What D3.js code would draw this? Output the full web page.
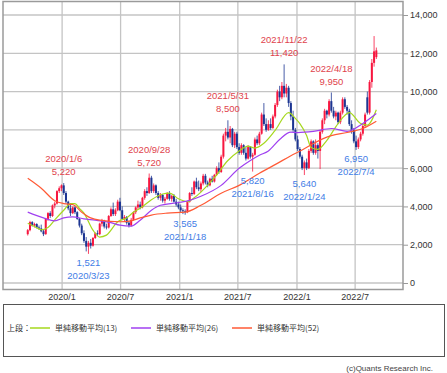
<!DOCTYPE html>
<html>
<head>
<meta charset="utf-8">
<script src="https://d3js.org/d3.v7.min.js"></script>
<style>
body, html {
  margin: 0;
  padding: 0;
  background: #fff;
  font-family: "Liberation Sans", Arial, sans-serif;
}
.grid line { stroke: #c4c4c4; stroke-width: 1.3; }
.frame { fill: none; stroke: #9a9a9a; stroke-width: 1.5; }
.ma { fill: none; stroke-width: 1.2; }
.tick-label { font-size: 9px; fill: #333; }
.note { font-size: 9.5px; text-anchor: middle; }
</style>
</head>
<body>
<div id="chart"></div>
<script>

// weekly candles, first week starts 2019-09-16
var firstWeek = "2019-09-16";
// [open, high, low, close]
var candles = [
  [2550,2820,2480,2760],[2760,3250,2700,3180],[3180,3230,2950,3000],[3000,3150,2900,3080],
  [3080,3120,2850,2900],[2900,3000,2780,2850],[2850,3050,2650,2700],[2700,2800,2450,2550],
  [2550,3400,2520,3350],[3350,3700,3250,3650],[3650,3750,3400,3500],[3500,4100,3450,4050],
  [4050,4250,3900,4150],[4150,4850,4100,4800],[4800,5050,4700,4950],[4950,5150,4800,5100],
  // 2020
  [5100,5220,4600,4700],[4700,4800,4150,4250],[4250,4300,3800,3900],[3900,4100,3500,3650],
  [3650,4000,3600,3950],[3950,4000,3600,3700],[3700,3750,3300,3350],[3350,3400,2900,3000],
  [3000,3100,2500,2600],[2600,2750,2100,2200],[2200,2400,1650,1900],[1900,2200,1521,2100],
  [2100,2300,1800,1950],[1950,2400,1900,2350],[2350,2650,2300,2600],[2600,2750,2450,2550],
  [2550,3150,2500,3100],[3100,3350,2950,3250],[3250,3300,2850,2950],[2950,3100,2800,2900],
  [2900,3550,2850,3500],[3500,3950,3450,3850],[3850,4200,3500,3600],[3600,3900,3500,3800],
  [3800,4350,3750,4250],[4250,4450,3750,3800],[3800,4000,3300,3350],[3350,3550,3200,3450],
  [3450,3500,3050,3150],[3150,3250,2900,3000],[3000,3400,2950,3300],[3300,3750,3250,3700],
  [3700,4000,3600,3950],[3950,4300,3850,4100],[4100,4250,3850,3950],[3950,4500,3900,4450],
  [4450,4900,4350,4800],[4800,5000,4550,4700],[4700,5720,4650,5500],[5500,5600,4700,4800],
  [4800,5200,4700,5100],[5100,5150,4600,4700],[4700,4800,4350,4450],[4450,4700,4300,4600],
  [4600,4650,4200,4300],[4300,4500,4150,4400],[4400,4750,4350,4700],[4700,4800,4300,4400],
  [4400,4600,4250,4550],[4550,4650,4200,4250],[4250,4400,4000,4100],[4100,4250,3850,3950],
  // 2021
  [3950,4100,3700,3800],[3800,3900,3600,3750],[3750,3850,3565,3700],[3700,4300,3650,4250],
  [4250,4750,4200,4700],[4700,5000,4550,4650],[4650,5350,4600,5300],[5300,5500,4900,5000],
  [5000,5350,4800,4900],[4900,5300,4750,5200],[5200,5700,5100,5600],[5600,5700,5150,5250],
  [5250,5350,5000,5100],[5100,5500,5050,5450],[5450,5600,5250,5300],[5300,5700,5250,5650],
  [5650,6100,5600,6000],[6000,6300,5700,5800],[5800,6700,5750,6600],[6600,7800,6500,7700],
  [7700,8100,7400,7900],[7900,8500,7500,7600],[7600,8200,7300,8050],[8050,8100,7100,7200],
  [7200,7900,7050,7800],[7800,7900,7000,7100],[7100,7300,6700,6800],[6800,7300,6700,7200],
  [7200,7250,6700,6800],[6800,7100,6400,6500],[6500,7200,6450,7100],[7100,7150,6500,6600],
  [6600,6800,5820,6700],[6700,7600,6650,7500],[7500,7700,7200,7300],[7300,7900,7200,7800],
  [7800,8900,7750,8800],[8800,9400,8200,8300],[8300,8600,7900,8000],[8000,8500,7950,8300],
  [8300,8600,8000,8100],[8100,8800,8050,8700],[8700,9400,8600,9300],[9300,10100,9200,10000],
  [10000,10300,9500,9700],[9700,10500,9600,10300],[10300,11420,9700,9900],[9900,10400,9700,10200],
  [10200,10300,9200,9400],[9400,9500,8500,8700],[8700,9000,7900,8000],[8000,8100,7400,7500],
  // 2022
  [7500,7700,6900,7000],[7000,7100,6500,6600],[6600,6700,5900,6000],[6000,6400,5640,6300],
  [6300,6500,5900,6000],[6000,7000,5950,6900],[6900,7500,6800,7400],[7400,7450,6700,6800],
  [6800,7500,6700,7200],[7200,7300,6500,6900],[6900,8000,5950,7900],[7900,8600,7800,8500],
  [8500,9100,8300,9000],[9000,9050,8600,8800],[8800,9600,8700,9500],[9500,9950,8900,9000],
  [9000,9200,8600,8700],[8700,9000,8500,8900],[8900,8950,8300,8400],[8400,9000,8300,8900],
  [8900,9700,8800,9600],[9600,9700,9100,9200],[9200,9300,8800,9000],[9000,9100,8200,8300],
  [8300,8500,7800,8000],[8000,8100,7300,7400],[7400,7700,6950,7100],[7100,7600,7000,7500],
  [7500,7900,7400,7800],[7800,8300,7700,8200],[8200,8900,8100,8800],[9700,10000,8800,8900],
  [8900,10600,8800,10500],[10500,11700,10200,11500],[11500,12900,11300,12100],[11800,12300,11700,12150]
];

// moving averages: [week index, value]
var ma13 = [[0,3120],[3,2950],[6,2780],[9,2900],[12,3300],[16,3800],[19,4150],[21,4150],[23,3900],
  [25,3650],[29,2760],[32,2400],[35,2500],[40,3200],[44,3400],[47,3700],[50,3900],[55,4350],
  [60,4650],[63,4700],[67,4400],[71,4250],[74,4450],[77,4750],[83,5500],[89,6400],[94,6900],
  [98,7150],[101,7050],[105,7300],[110,7970],[116,8900],[119,8600],[121,8330],[124,7700],
  [126,7080],[129,6980],[133,7450],[138,8330],[143,8900],[148,8330],[151,8250],[155,9050]];
var ma26 = [[0,3700],[7,3400],[12,3250],[16,3400],[20,3450],[25,3350],[30,3280],[37,3150],
  [41,3020],[46,2970],[50,3280],[55,3800],[59,4060],[68,4220],[72,4320],[77,4530],[86,5100],
  [94,5990],[99,6400],[103,6670],[107,6900],[112,7500],[117,7880],[120,7860],[127,7920],
  [135,8070],[142,7920],[149,8330],[155,8850]];
var ma52 = [[0,5470],[6,4950],[12,4300],[16,4150],[20,4100],[24,3700],[28,3400],[32,3280],
  [41,3200],[46,3250],[50,3400],[55,3550],[62,3650],[70,3700],[77,4060],[86,4690],[94,5100],
  [103,5730],[111,6250],[117,6650],[122,6950],[127,7290],[135,7700],[142,7860],[149,8070],[155,8450]];

// highs and lows noted on the chart
var noteDates = ["2020/1/6","2020/3/23","2020/9/28","2021/1/18","2021/5/31","2021/8/16",
                 "2021/11/22","2022/1/24","2022/4/18","2022/7/4"];
var noteValues = [5220,1521,5720,3565,8500,5820,11420,5640,9950,6950];
var noteKinds = ["high","low","high","low","high","low","high","low","high","low"];

var yTicks = [0,2000,4000,6000,8000,10000,12000,14000];
var xTicks = ["2020/1","2020/7","2021/1","2021/7","2022/1","2022/7"];
var legendNames = ["単純移動平均(13)","単純移動平均(26)","単純移動平均(52)"];
var maColors = ["#a6d81e","#a040f0","#ff5a36"];

var width = 447, height = 373;
var plot = {left: 3, right: 403, top: 1.5, bottom: 289.5};

var parseDay = d3.timeParse("%Y/%m/%d");
var parseMonth = d3.timeParse("%Y/%m");
var start = d3.timeParse("%Y-%m-%d")(firstWeek);
var weekDate = function(i) { return d3.timeDay.offset(start, 7 * i); };

var svg = d3.select('#chart').append('svg')
  .attr('width', width)
  .attr('height', height);

var x = d3.scaleTime()
  .domain([new Date(2019, 6, 1), new Date(2022, 10, 27)])
  .range([plot.left, plot.right]);
var y = d3.scaleLinear()
  .domain([0, 14000])
  .range([283, 15]);

svg.append('defs').append('clipPath').attr('id', 'clip')
  .append('rect')
  .attr('x', plot.left).attr('y', plot.top)
  .attr('width', plot.right - plot.left).attr('height', plot.bottom - plot.top);

// grid
var grid = svg.append('g').attr('class', 'grid');
grid.selectAll('line.h').data(yTicks).enter().append('line')
  .attr('x1', plot.left).attr('x2', plot.right)
  .attr('y1', function(d) { return y(d); }).attr('y2', function(d) { return y(d); });
grid.selectAll('line.v').data(xTicks).enter().append('line')
  .attr('y1', plot.top).attr('y2', plot.bottom)
  .attr('x1', function(d) { return x(parseMonth(d)); })
  .attr('x2', function(d) { return x(parseMonth(d)); });

// right axis
var yAxis = svg.append('g')
  .attr('transform', 'translate(' + plot.right + ',0)')
  .call(d3.axisRight(y).tickValues(yTicks).tickSize(5).tickPadding(2).tickFormat(d3.format(',')));
yAxis.select('.domain').remove();
yAxis.selectAll('line').attr('stroke', '#999');
yAxis.selectAll('text').attr('class', 'tick-label').attr('font-family', null).attr('font-size', null);

// bottom labels
svg.selectAll('text.xl').data(xTicks).enter().append('text')
  .attr('class', 'tick-label')
  .attr('x', function(d) { return x(parseMonth(d)); })
  .attr('y', 300)
  .attr('text-anchor', 'middle')
  .text(function(d) { return d; });

// candles
var g = svg.append('g').attr('clip-path', 'url(#clip)');
var up = '#f7163f', down = '#1c3592';
var bar = g.selectAll('g.c').data(candles).enter().append('g');
bar.append('line')
  .attr('x1', function(d, i) { return x(weekDate(i)); })
  .attr('x2', function(d, i) { return x(weekDate(i)); })
  .attr('y1', function(d) { return y(d[1]); })
  .attr('y2', function(d) { return y(d[2]); })
  .attr('stroke', function(d) { return d[3] >= d[0] ? up : down; })
  .attr('stroke-width', 0.8);
bar.append('rect')
  .attr('x', function(d, i) { return x(weekDate(i)) - 1; })
  .attr('width', 2)
  .attr('y', function(d) { return y(Math.max(d[0], d[3])); })
  .attr('height', function(d) { return Math.max(0.8, Math.abs(y(d[0]) - y(d[3]))); })
  .attr('fill', function(d) { return d[3] >= d[0] ? up : down; });

// moving averages
var line = d3.line()
  .x(function(d) { return x(weekDate(d[0])); })
  .y(function(d) { return y(d[1]); })
  .curve(d3.curveMonotoneX);
[ma13, ma26, ma52].forEach(function(s, k) {
  g.append('path').datum(s).attr('class', 'ma')
    .attr('stroke', maColors[k]).attr('d', line);
});

// frame
svg.append('rect').attr('class', 'frame')
  .attr('x', plot.left).attr('y', plot.top)
  .attr('width', plot.right - plot.left).attr('height', plot.bottom - plot.top);

// notes
noteDates.forEach(function(d, i) {
  var px = x(parseDay(d)), py = y(noteValues[i]);
  var high = noteKinds[i] === 'high';
  var col = high ? '#e0434c' : '#3f7de6';
  var numY = high ? py - 8 : py + 12;
  var dateY = high ? py - 21 : py + 25;
  svg.append('text').attr('class', 'note').attr('fill', col)
    .attr('x', px).attr('y', numY).text(d3.format(',')(noteValues[i]));
  svg.append('text').attr('class', 'note').attr('fill', col)
    .attr('x', px).attr('y', dateY).text(d);
});

// legend
svg.append('rect')
  .attr('x', 3.5).attr('y', 304.5).attr('width', 441).attr('height', 52)
  .attr('fill', 'none').attr('stroke', '#555').attr('stroke-width', 1);
var lg = svg.append('g').attr('font-family', '"Noto Sans CJK JP", sans-serif').attr('font-size', 8).attr('fill', '#333');
lg.append('text').attr('x', 7).attr('y', 331).text('上段：');
legendNames.forEach(function(n, k) {
  var lx = 30 + k * 101;
  lg.append('line').attr('x1', lx).attr('x2', lx + 20).attr('y1', 328).attr('y2', 328)
    .attr('stroke', maColors[k]).attr('stroke-width', 1.5);
  lg.append('text').attr('x', lx + 25).attr('y', 331).text(n);
});

svg.append('text')
  .attr('x', 433).attr('y', 371)
  .attr('text-anchor', 'end')
  .attr('font-size', 8).attr('fill', '#444')
  .text('(c)Quants Research Inc.');

</script>
</body>
</html>
